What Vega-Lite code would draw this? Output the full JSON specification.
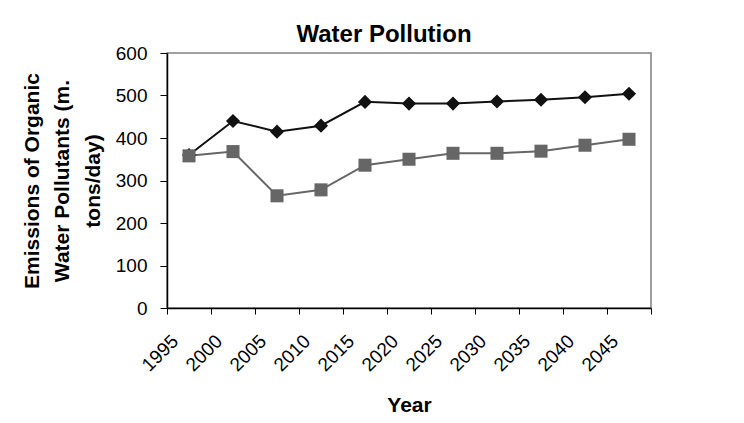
{
  "$schema": "https://vega.github.io/schema/vega-lite/v6.json",
  "width": 484,
  "height": 255,
  "autosize": {"type": "none"},
  "padding": {"left": 167, "top": 53, "right": 93, "bottom": 115},
  "background": "white",
  "config": {
    "font": "Liberation Sans",
    "view": {"stroke": "#808080", "strokeWidth": 1.5},
    "axis": {
      "domainColor": "#000000",
      "domainWidth": 1.5,
      "tickColor": "#000000",
      "tickWidth": 1,
      "tickSize": 6,
      "grid": false,
      "labelFont": "Liberation Sans",
      "labelFontSize": 19,
      "labelColor": "#000000",
      "titleFont": "Liberation Sans",
      "titleFontSize": 21,
      "titleFontWeight": "bold",
      "titleColor": "#000000"
    }
  },
  "title": {
    "text": "Water Pollution",
    "font": "Liberation Sans",
    "fontSize": 24,
    "fontWeight": "bold",
    "color": "#000000",
    "dx": -25,
    "offset": -3
  },
  "data": {
    "values": [
      {"year": "1995", "series": "Series 1", "value": 360},
      {"year": "2000", "series": "Series 1", "value": 440},
      {"year": "2005", "series": "Series 1", "value": 415},
      {"year": "2010", "series": "Series 1", "value": 429},
      {"year": "2015", "series": "Series 1", "value": 485},
      {"year": "2020", "series": "Series 1", "value": 481},
      {"year": "2025", "series": "Series 1", "value": 481},
      {"year": "2030", "series": "Series 1", "value": 486},
      {"year": "2035", "series": "Series 1", "value": 490},
      {"year": "2040", "series": "Series 1", "value": 496},
      {"year": "2045", "series": "Series 1", "value": 504},
      {"year": "1995", "series": "Series 2", "value": 358},
      {"year": "2000", "series": "Series 2", "value": 368},
      {"year": "2005", "series": "Series 2", "value": 264},
      {"year": "2010", "series": "Series 2", "value": 278},
      {"year": "2015", "series": "Series 2", "value": 336},
      {"year": "2020", "series": "Series 2", "value": 350},
      {"year": "2025", "series": "Series 2", "value": 364},
      {"year": "2030", "series": "Series 2", "value": 364},
      {"year": "2035", "series": "Series 2", "value": 369},
      {"year": "2040", "series": "Series 2", "value": 383},
      {"year": "2045", "series": "Series 2", "value": 397}
    ]
  },
  "encoding": {
    "x": {
      "field": "year",
      "type": "ordinal",
      "bandPosition": 0.5,
      "scale": {"type": "band", "paddingInner": 0, "paddingOuter": 0},
      "axis": {
        "title": "Year",
        "labelAngle": -45,
        "labelAlign": "right",
        "labelBaseline": "alphabetic",
        "tickBand": "extent",
        "labelPadding": 28,
        "labelOffset": -10,
        "titlePadding": 20
      }
    },
    "y": {
      "field": "value",
      "type": "quantitative",
      "scale": {"domain": [0, 600], "nice": false},
      "axis": {
        "values": [0, 100, 200, 300, 400, 500, 600],
        "title": ["Emissions of Organic", "Water Pollutants (m.", "tons/day)"],
        "titleLineHeight": 30.5,
        "titlePadding": 12,
        "labelPadding": 13,
        "tickSize": 7
      }
    },
    "color": {
      "field": "series",
      "type": "nominal",
      "scale": {"domain": ["Series 1", "Series 2"], "range": ["#111111", "#666666"]},
      "legend": null
    }
  },
  "layer": [
    {
      "mark": {"type": "line", "strokeWidth": 2}
    },
    {
      "mark": {"type": "point", "filled": true, "opacity": 1},
      "encoding": {
        "shape": {
          "field": "series",
          "type": "nominal",
          "scale": {"domain": ["Series 1", "Series 2"], "range": ["diamond", "square"]},
          "legend": null
        },
        "size": {
          "field": "series",
          "type": "nominal",
          "scale": {"domain": ["Series 1", "Series 2"], "range": [200, 170]},
          "legend": null
        }
      }
    }
  ]
}
